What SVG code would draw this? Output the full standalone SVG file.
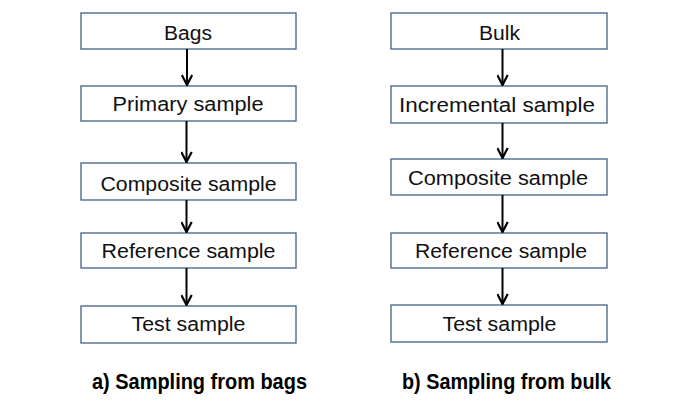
<svg xmlns="http://www.w3.org/2000/svg" width="681" height="403" viewBox="0 0 681 403">
  <style>
    .box { fill: #fefefe; stroke: #4f6b8f; stroke-width: 1.4; }
    .lbl { font-family: "Liberation Sans", Arial, sans-serif; font-size: 20px; fill: #111; text-anchor: middle; }
    .cap { font-family: "Liberation Sans", Arial, sans-serif; font-size: 22px; font-weight: bold; fill: #000; }
    .arr { stroke: #000; stroke-width: 2; fill: none; }
  </style>
  <defs>
    <marker id="head" viewBox="0 0 12 12" refX="11" refY="6" markerWidth="12" markerHeight="12" markerUnits="userSpaceOnUse" orient="auto">
      <path d="M1,0.8 L11,6 L1,11.2" fill="none" stroke="#000" stroke-width="2.2"/>
    </marker>
  </defs>
  <rect width="681" height="403" fill="#ffffff"/>

  <!-- left column: sampling from bags -->
  <g id="bags">
    <rect class="box" x="81" y="13" width="215" height="36"/>
    <text class="lbl" x="188" y="39.5" textLength="48" lengthAdjust="spacingAndGlyphs">Bags</text>
  </g>
  <g id="primary">
    <rect class="box" x="81" y="86" width="215" height="35"/>
    <text class="lbl" x="188" y="111" textLength="151" lengthAdjust="spacingAndGlyphs">Primary sample</text>
  </g>
  <g id="composite-a">
    <rect class="box" x="81" y="163" width="215" height="37"/>
    <text class="lbl" x="188.5" y="190.5" textLength="176" lengthAdjust="spacingAndGlyphs">Composite sample</text>
  </g>
  <g id="reference-a">
    <rect class="box" x="81" y="233" width="215" height="35"/>
    <text class="lbl" x="188.5" y="258" textLength="174" lengthAdjust="spacingAndGlyphs">Reference sample</text>
  </g>
  <g id="test-a">
    <rect class="box" x="81" y="306" width="215" height="37"/>
    <text class="lbl" x="188.5" y="331" textLength="114" lengthAdjust="spacingAndGlyphs">Test sample</text>
  </g>

  <!-- right column: sampling from bulk -->
  <g id="bulk">
    <rect class="box" x="391" y="13" width="216" height="36"/>
    <text class="lbl" x="499.5" y="39.5" textLength="41" lengthAdjust="spacingAndGlyphs">Bulk</text>
  </g>
  <g id="incremental">
    <rect class="box" x="391" y="86" width="216" height="37"/>
    <text class="lbl" x="497" y="111.5" textLength="196" lengthAdjust="spacingAndGlyphs">Incremental sample</text>
  </g>
  <g id="composite-b">
    <rect class="box" x="391" y="159" width="216" height="36"/>
    <text class="lbl" x="498" y="184.5" textLength="180" lengthAdjust="spacingAndGlyphs">Composite sample</text>
  </g>
  <g id="reference-b">
    <rect class="box" x="391" y="233" width="216" height="35"/>
    <text class="lbl" x="501" y="258" textLength="172" lengthAdjust="spacingAndGlyphs">Reference sample</text>
  </g>
  <g id="test-b">
    <rect class="box" x="391" y="305" width="216" height="37"/>
    <text class="lbl" x="499.5" y="331" textLength="114" lengthAdjust="spacingAndGlyphs">Test sample</text>
  </g>

  <!-- connectors -->
  <g id="connectors">
    <line class="arr" x1="187" y1="49" x2="187" y2="85" marker-end="url(#head)"/>
    <line class="arr" x1="186.5" y1="121" x2="186.5" y2="162" marker-end="url(#head)"/>
    <line class="arr" x1="186.5" y1="200" x2="186.5" y2="232" marker-end="url(#head)"/>
    <line class="arr" x1="186.5" y1="268" x2="186.5" y2="305" marker-end="url(#head)"/>
    <line class="arr" x1="502.5" y1="49" x2="502.5" y2="85" marker-end="url(#head)"/>
    <line class="arr" x1="502.5" y1="123" x2="502.5" y2="158" marker-end="url(#head)"/>
    <line class="arr" x1="502.5" y1="195" x2="502.5" y2="232" marker-end="url(#head)"/>
    <line class="arr" x1="502.5" y1="268" x2="502.5" y2="304" marker-end="url(#head)"/>
  </g>

  <!-- captions -->
  <g id="captions">
    <text class="cap" x="92" y="389" textLength="215" lengthAdjust="spacingAndGlyphs">a) Sampling from bags</text>
    <text class="cap" x="402" y="389" textLength="209" lengthAdjust="spacingAndGlyphs">b) Sampling from bulk</text>
  </g>
</svg>
